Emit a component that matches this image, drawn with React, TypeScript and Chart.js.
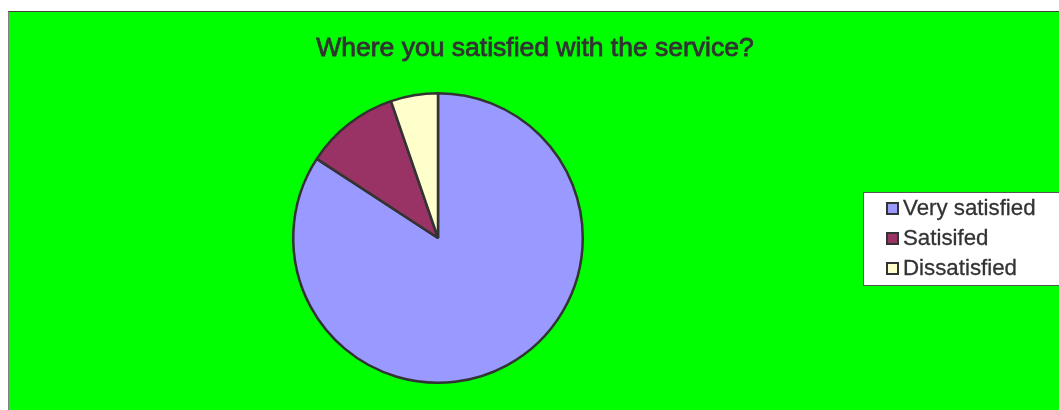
import React, { useEffect, useRef } from "react";
import { Chart, registerables } from "chart.js";

Chart.register(...registerables);

const titleText = "Where you satisfied with the service?";
const categories = ["Very satisfied", "Satisifed", "Dissatisfied"];
const values = [16, 2, 1];
const sliceColors = ["#9999FF", "#993366", "#FFFFCC"];

const FONT = "'Liberation Sans', Arial, sans-serif";

const overlayPlugin = {
  id: "overlay",
  afterDraw(chart: any) {
    const ctx = chart.ctx as CanvasRenderingContext2D;
    ctx.save();
    // Title
    ctx.font = `26.5px ${FONT}`;
    ctx.fillStyle = "#333333";
    ctx.strokeStyle = "#333333";
    ctx.lineWidth = 0.8;
    ctx.textAlign = "center";
    ctx.textBaseline = "alphabetic";
    ctx.fillText(titleText, 526, 44);
    ctx.strokeText(titleText, 526, 44);

    // Legend box
    const bx = 854.5, by = 180.5, bw = 300, bh = 93;
    ctx.fillStyle = "#FFFFFF";
    ctx.fillRect(bx, by, bw, bh);
    ctx.strokeStyle = "#555555";
    ctx.lineWidth = 1;
    ctx.strokeRect(bx, by, bw, bh);

    const labels: string[] = chart.data.labels;
    const colors: string[] = chart.data.datasets[0].backgroundColor;
    ctx.font = `22.3px ${FONT}`;
    ctx.textAlign = "left";
    labels.forEach((lab, i) => {
      const base = 203 + i * 30;
      ctx.fillStyle = colors[i];
      ctx.fillRect(878, base - 12, 11, 11);
      ctx.strokeStyle = "#333333";
      ctx.lineWidth = 2;
      ctx.strokeRect(878, base - 12, 11, 11);
      ctx.fillStyle = "#333333";
      ctx.fillText(lab, 894, base);
      ctx.lineWidth = 0.3;
      ctx.strokeText(lab, 894, base);
    });
    ctx.restore();
  },
};

export default function App() {
  const ref = useRef<HTMLCanvasElement | null>(null);
  useEffect(() => {
    if (!ref.current) return;
    const chart = new Chart(ref.current, {
      type: "pie",
      data: {
        labels: categories,
        datasets: [
          {
            data: values,
            backgroundColor: sliceColors,
            borderColor: "#333333",
            borderWidth: 2.5,
          },
        ],
      },
      options: {
        animation: false,
        responsive: false,
        layout: { padding: { left: 283, top: 80, right: 475, bottom: 26 } },
        plugins: {
          legend: { display: false },
          title: { display: false },
          tooltip: { enabled: false },
        },
      },
      plugins: [overlayPlugin],
    });
    return () => chart.destroy();
  }, []);
  return (
    <div
      style={{
        position: "fixed",
        left: 8,
        top: 11,
        right: 0,
        bottom: 0,
        background: "#00FF00",
        borderLeft: "1px solid #808080",
        borderTop: "1px solid #404040",
        overflow: "hidden",
      }}
    >
      <canvas ref={ref} width={1050} height={398} style={{ display: "block" }} />
    </div>
  );
}
